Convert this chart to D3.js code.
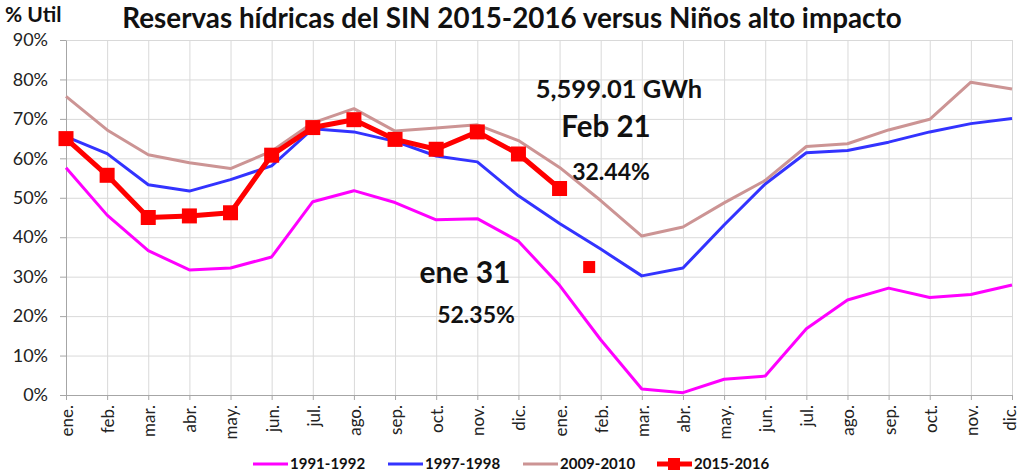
<!DOCTYPE html>
<html lang="es">
<head>
<meta charset="UTF-8">
<title>Reservas hídricas del SIN</title>
<script src="https://d3js.org/d3.v7.min.js"></script>
<style>
body { margin: 0; background: white; font-family: Lato, 'Open Sans', sans-serif; }
.grid line { stroke: #d9d9d9; stroke-width: 1px; }
.grid path { stroke: none; }
.y-axis text, .x-axis text { font-family: Lato, sans-serif; fill: #222; }
.y-axis text { font-size: 18px; }
.x-axis text { font-size: 17px; }
.y-axis path, .x-axis path { stroke: #a6a6a6; }
.y-axis line, .x-axis line { stroke: #a6a6a6; }
.series { fill: none; stroke-linejoin: round; }
.note { font-weight: bold; fill: #111; }
.legend text { font-weight: bold; font-size: 15px; fill: #111; }
</style>
</head>
<body>
<div id="chart"></div>
<script>

// --------------------------------------
// Data
// --------------------------------------

var months = ["ene.", "feb.", "mar.", "abr.", "may.", "jun.", "jul.", "ago.", "sep.", "oct.", "nov.", "dic.",
              "ene.", "feb.", "mar.", "abr.", "may.", "jun.", "jul.", "ago.", "sep.", "oct.", "nov.", "dic."];

var yTicks = [0, 10, 20, 30, 40, 50, 60, 70, 80, 90];

var s1991 = [57.6, 45.6, 36.6, 31.7, 32.2, 35.0, 49.0, 51.8, 48.8, 44.4, 44.7, 39.0,
             27.8, 14.0, 1.5, 0.6, 4.0, 4.8, 16.8, 24.1, 27.1, 24.7, 25.5, 27.9];
var s1997 = [65.5, 61.2, 53.3, 51.7, 54.6, 58.1, 67.5, 66.7, 64.3, 60.6, 59.1, 50.5,
             43.5, 37.0, 30.2, 32.2, 43.1, 53.5, 61.4, 62.0, 64.1, 66.7, 68.8, 70.1];
var s2009 = [75.7, 67.2, 60.9, 58.9, 57.4, 61.8, 69.0, 72.6, 66.9, 67.7, 68.5, 64.5,
             57.7, 49.3, 40.3, 42.6, 48.7, 54.4, 63.0, 63.7, 67.2, 69.9, 79.3, 77.6];
var s2015 = [65.0, 55.7, 45.0, 45.4, 46.2, 60.8, 67.8, 69.8, 64.8, 62.3, 66.7, 61.1, 52.35];

// isolated point: 21 feb 2016 (between ene. and feb. of the second year)
var lastPos = [12.72];
var lastVal = [32.44];

var seriesNames = ["1991-1992", "1997-1998", "2009-2010", "2015-2016"];
var seriesColors = ["#ff00ff", "#3333ff", "#cc9494", "#ff0000"];

// --------------------------------------
// Size
// --------------------------------------

var totalWidth = 1020;
var totalHeight = 476;
var margin = {top: 40, right: 8, bottom: 81, left: 66};

var svg = d3.select("#chart")
  .append("svg")
  .attr("width", totalWidth)
  .attr("height", totalHeight);

// --------------------------------------
// Scales
// --------------------------------------

var xscale = d3.scaleLinear()
  .domain([0, months.length - 1])
  .range([margin.left, totalWidth - margin.right]);

var yscale = d3.scaleLinear()
  .domain([0, 90])
  .range([totalHeight - margin.bottom, margin.top]);

// --------------------------------------
// Grid and axes
// --------------------------------------

svg.append("g")
  .attr("class", "grid")
  .attr("transform", `translate(${margin.left},0)`)
  .call(d3.axisLeft(yscale).tickValues(yTicks)
    .tickSize(-(totalWidth - margin.right - margin.left)).tickFormat(""));

svg.append("g")
  .attr("class", "grid")
  .attr("transform", `translate(0,${margin.top})`)
  .call(d3.axisBottom(xscale).tickValues(d3.range(months.length))
    .tickSize(totalHeight - margin.bottom - margin.top).tickFormat(""));

svg.append("g")
  .attr("class", "y-axis")
  .attr("transform", `translate(${margin.left},0)`)
  .call(d3.axisLeft(yscale).tickValues(yTicks).tickSize(6).tickSizeOuter(0)
    .tickPadding(12).tickFormat(d => d + "%"));

var xAxis = svg.append("g")
  .attr("class", "x-axis")
  .attr("transform", `translate(0,${yscale(0)})`)
  .call(d3.axisBottom(xscale).tickValues(d3.range(months.length)).tickSize(5)
    .tickSizeOuter(0).tickFormat(i => months[i]));

// last label sits at the right edge, pull it in a little
xAxis.selectAll("text")
  .attr("transform", "rotate(-90)")
  .attr("text-anchor", "end")
  .attr("x", -10)
  .attr("y", 0)
  .attr("dy", (d, i) => i == months.length - 1 ? "0.2em" : "0.38em");

// --------------------------------------
// Lines
// --------------------------------------

var line = d3.line()
  .x((d, i) => xscale(i))
  .y(d => yscale(d));

var all = [s1991, s1997, s2009];
all.forEach(function (s, k) {
  svg.append("path")
    .datum(s)
    .attr("class", "series")
    .attr("stroke", seriesColors[k])
    .attr("stroke-width", 3)
    .attr("d", line);
});

svg.append("path")
  .datum(s2015)
  .attr("class", "series")
  .attr("stroke", seriesColors[3])
  .attr("stroke-width", 5)
  .attr("d", line);

var mk = 15;
svg.selectAll(".mk2015")
  .data(s2015)
  .enter().append("rect")
  .attr("x", (d, i) => xscale(i) - mk / 2)
  .attr("y", d => yscale(d) - mk / 2)
  .attr("width", mk)
  .attr("height", mk)
  .attr("fill", seriesColors[3]);

svg.selectAll(".mkLast")
  .data(lastVal)
  .enter().append("rect")
  .attr("x", (d, i) => xscale(lastPos[i]) - 6)
  .attr("y", d => yscale(d) - 6)
  .attr("width", 12)
  .attr("height", 12)
  .attr("fill", seriesColors[3]);

// --------------------------------------
// Titles and notes
// --------------------------------------

svg.append("text")
  .attr("x", 512).attr("y", 28)
  .attr("text-anchor", "middle")
  .attr("class", "note")
  .style("font-size", "27.8px")
  .text("Reservas hídricas del SIN 2015-2016 versus Niños alto impacto");

svg.append("text")
  .attr("x", 5).attr("y", 22)
  .attr("class", "note")
  .style("font-size", "21px")
  .text("% Util");

svg.append("text").attr("x", 619).attr("y", 98).attr("text-anchor", "middle")
  .attr("class", "note").style("font-size", "25.5px").text("5,599.01 GWh");
svg.append("text").attr("x", 606).attr("y", 137).attr("text-anchor", "middle")
  .attr("class", "note").style("font-size", "29.5px").text("Feb 21");
svg.append("text").attr("x", 611).attr("y", 180).attr("text-anchor", "middle")
  .attr("class", "note").style("font-size", "23px").text("32.44%");
svg.append("text").attr("x", 465).attr("y", 283).attr("text-anchor", "middle")
  .attr("class", "note").style("font-size", "30px").text("ene 31");
svg.append("text").attr("x", 476).attr("y", 323).attr("text-anchor", "middle")
  .attr("class", "note").style("font-size", "23px").text("52.35%");

// --------------------------------------
// Legend
// --------------------------------------

var legX = [253, 388, 523, 657];
var legend = svg.append("g").attr("class", "legend");
seriesNames.forEach(function (name, k) {
  legend.append("line")
    .attr("x1", legX[k]).attr("x2", legX[k] + 35)
    .attr("y1", 464).attr("y2", 464)
    .attr("stroke", seriesColors[k])
    .attr("stroke-width", k == 3 ? 5 : 3);
  if (k == 3) {
    legend.append("rect")
      .attr("x", legX[k] + 11).attr("y", 458)
      .attr("width", 12).attr("height", 12)
      .attr("fill", seriesColors[k]);
  }
  legend.append("text")
    .attr("x", legX[k] + 37).attr("y", 469)
    .text(name);
});

</script>
</body>
</html>
